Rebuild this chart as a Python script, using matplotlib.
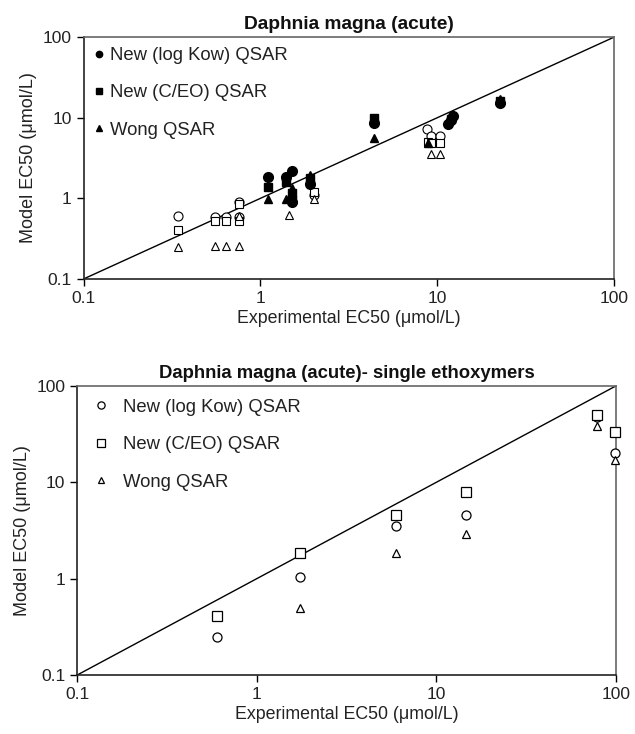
import matplotlib.pyplot as plt
from matplotlib.ticker import FixedLocator, FixedFormatter, NullLocator

plt.rcParams['font.family'] = ['Liberation Sans', 'DejaVu Sans']

# --- top panel: Daphnia magna (acute) ---
# filled markers = fitted set, open markers = other set (not in legend)
kow_x = [1.1, 1.4, 1.5, 1.5, 1.9, 4.4, 11.5, 12.0, 12.3, 22.5]
kow_y = [1.85, 1.85, 2.2, 0.9, 1.5, 8.7, 8.4, 9.3, 10.5, 15.0]
ceo_x = [1.1, 1.4, 1.5, 1.5, 1.9, 4.4, 12.0, 22.5]
ceo_y = [1.4, 1.6, 1.15, 0.95, 1.8, 9.8, 9.5, 16.0]
wong_x = [1.1, 1.4, 1.5, 1.9, 4.4, 8.8, 22.5]
wong_y = [0.98, 0.98, 1.35, 1.95, 5.6, 4.8, 17.0]

kow_open_x = [0.34, 0.55, 0.64, 0.76, 0.76, 2.0, 8.7, 9.2, 10.4]
kow_open_y = [0.6, 0.58, 0.58, 0.91, 0.58, 1.1, 7.3, 6.0, 6.0]
ceo_open_x = [0.34, 0.55, 0.64, 0.76, 0.76, 2.0, 8.8, 9.2, 10.4]
ceo_open_y = [0.4, 0.52, 0.52, 0.85, 0.52, 1.2, 5.0, 4.85, 4.85]
wong_open_x = [0.34, 0.55, 0.64, 0.76, 0.76, 1.45, 2.0, 9.2, 10.4]
wong_open_y = [0.25, 0.26, 0.26, 0.26, 0.6, 0.62, 0.98, 3.5, 3.5]

# --- bottom panel: single ethoxymers ---
eth_x = [0.6, 1.75, 6.0, 14.6, 78.5, 99.0]
eth_kow = [0.25, 1.05, 3.55, 4.6, 48.0, 20.0]
eth_ceo = [0.41, 1.84, 4.55, 7.9, 50.0, 33.6]
eth_wong = [None, 0.5, 1.84, 2.9, 38.5, 17.1]

ticks = [0.1, 1, 10, 100]
tick_labels = ['0.1', '1', '10', '100']

fig = plt.figure(figsize=(6.35, 7.34), dpi=100)
ax1 = fig.add_axes([0.1315, 0.6199, 0.836, 0.3297])
ax2 = fig.add_axes([0.1217, 0.0804, 0.848, 0.3937])


def style_axes(ax, title, title_size):
    ax.set_xscale('log')
    ax.set_yscale('log')
    ax.set_xlim(0.1, 100)
    ax.set_ylim(0.1, 100)
    ax.plot([0.1, 100], [0.1, 100], color='black', lw=1.0, zorder=1)
    for a in (ax.xaxis, ax.yaxis):
        a.set_major_locator(FixedLocator(ticks))
        a.set_major_formatter(FixedFormatter(tick_labels))
        a.set_minor_locator(NullLocator())
    ax.tick_params(direction='out', length=5, width=1, labelsize=12.5,
                   color='black', labelcolor='#222222')
    ax.spines['left'].set_color('#222222')
    ax.spines['bottom'].set_color('#222222')
    ax.spines['top'].set_color('#666666')
    ax.spines['right'].set_color('#666666')
    for s in ax.spines.values():
        s.set_linewidth(1.2)
    ax.set_title(title, fontsize=title_size, fontweight='bold', pad=6, color='#111111')
    ax.set_xlabel('Experimental EC50 (\u03bcmol/L)', fontsize=12.8, color='#222222',
                  labelpad=3)
    ax.set_ylabel('Model EC50 (\u03bcmol/L)', fontsize=13, color='#222222')


style_axes(ax1, 'Daphnia magna (acute)', 13.8)
ax1.plot(kow_x, kow_y, 'o', color='black', ms=7, label='New (log Kow) QSAR', zorder=3)
ax1.plot(ceo_x, ceo_y, 's', color='black', ms=6, label='New (C/EO) QSAR', zorder=3)
ax1.plot(wong_x, wong_y, '^', color='black', ms=6, label='Wong QSAR', zorder=3)
ax1.plot(kow_open_x, kow_open_y, 'o', mfc='white', mec='black', ms=6.5, mew=0.8, zorder=2)
ax1.plot(ceo_open_x, ceo_open_y, 's', mfc='white', mec='black', ms=5.5, mew=0.8, zorder=2)
ax1.plot(wong_open_x, wong_open_y, '^', mfc='white', mec='black', ms=6, mew=0.8, zorder=2)
ax1.legend(loc='upper left', frameon=False, fontsize=13.3, markerscale=0.65,
           handlelength=0.6, handletextpad=0.3, labelspacing=1.1,
           borderaxespad=0.35, borderpad=0.2, labelcolor='#222222')

style_axes(ax2, 'Daphnia magna (acute)- single ethoxymers', 13.3)
ax2.plot(eth_x, eth_kow, 'o', mfc='white', mec='black', ms=6.5, mew=0.9,
         label='New (log Kow) QSAR', clip_on=False, zorder=3)
ax2.plot(eth_x, eth_ceo, 's', mfc='white', mec='black', ms=6.5, mew=0.9,
         label='New (C/EO) QSAR', clip_on=False, zorder=3)
wx = [x for x, y in zip(eth_x, eth_wong) if y is not None]
wy = [y for y in eth_wong if y is not None]
ax2.plot(wx, wy, '^', mfc='white', mec='black', ms=5.5, mew=0.9,
         label='Wong QSAR', clip_on=False, zorder=3)
ax2.legend(loc='upper left', frameon=False, fontsize=13.3, markerscale=0.8,
           handlelength=1.2, handletextpad=0.6, labelspacing=1.1,
           borderaxespad=0.3, borderpad=0.4, labelcolor='#222222')

fig.savefig('out.png', dpi=100)
